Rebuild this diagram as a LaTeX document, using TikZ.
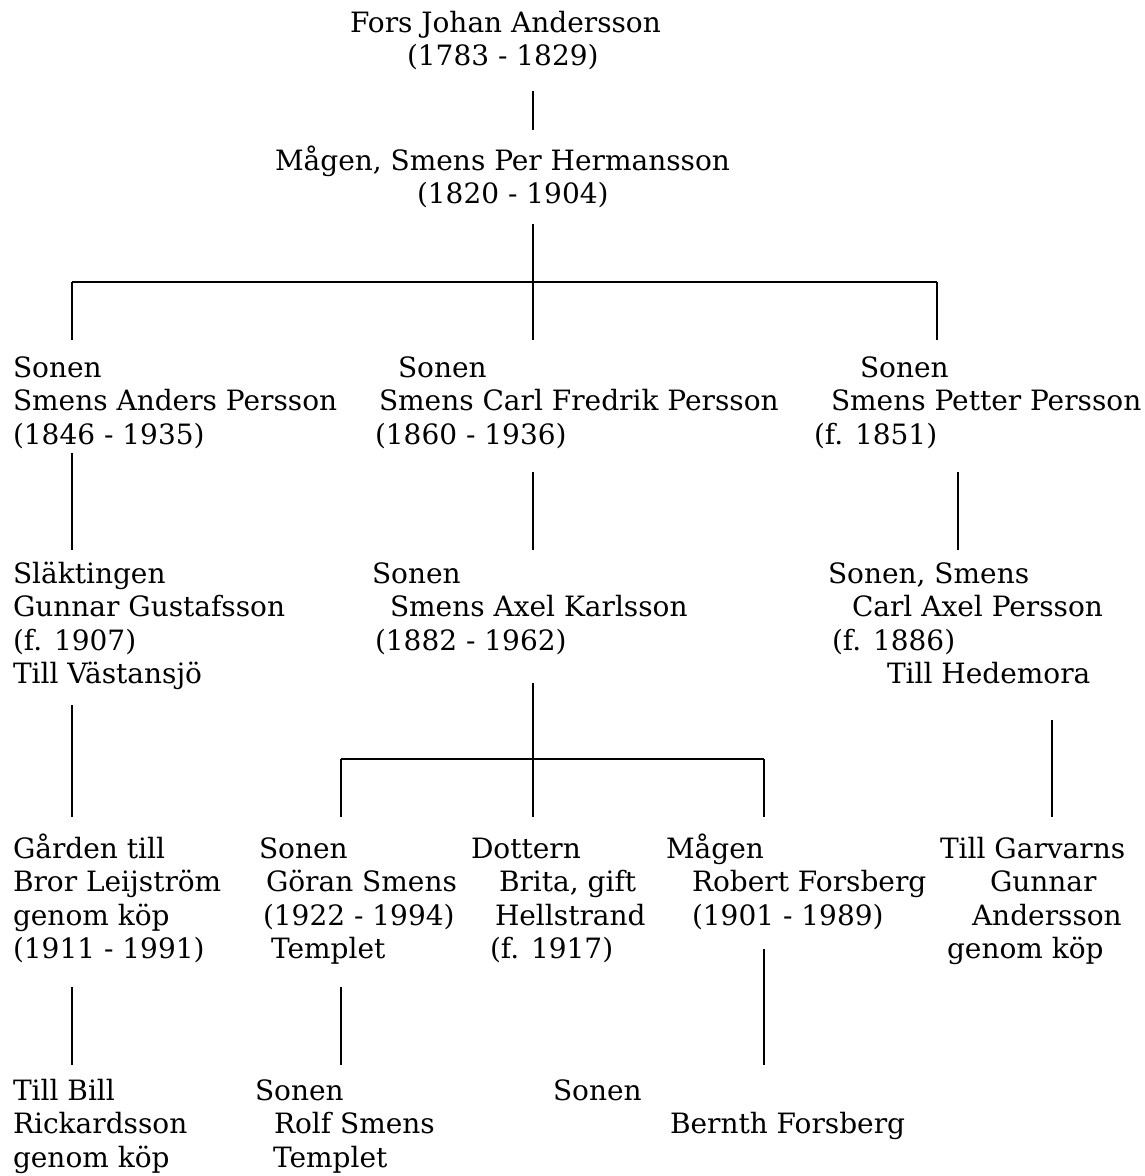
\documentclass[tikz,border=0pt]{standalone}
\usepackage{fontspec}
\setmainfont{DejaVu Serif}
\newcommand{\fs}{\rule{0pt}{30pt}}
\newcommand{\ind}[1]{\hspace*{#1pt}}
\begin{document}
\begin{tikzpicture}[x=1pt,y=-1pt,
  person/.style={anchor=north west, inner sep=0pt, outer sep=0pt, align=left,
    font=\fontsize{28}{33.5}\selectfont},
  vline/.style={line width=1.2pt},
  hline/.style={line width=2pt}]
\useasboundingbox[fill=white] (0,0) rectangle (1145,1176);
% nodes: position = (left, first baseline - 30)
\node[person] (t1) at (350,2) {\fs Fors Johan Andersson\\\ind{57}(1783 - 1829)};
\node[person] (t2) at (275,140) {\fs Mågen, Smens Per Hermansson\\\ind{142}(1820 - 1904)};
\node[person] (a) at (13,347) {\fs Sonen\\Smens Anders Persson\\(1846 - 1935)};
\node[person] (c) at (375,347) {\fs\ind{23}Sonen\\\ind{4}Smens Carl Fredrik Persson\\(1860 - 1936)};
\node[person] (p) at (814,347) {\fs\ind{46}Sonen\\\ind{17}Smens Petter Persson\\(f. 1851)};
\node[person] (g) at (13,553) {\fs Släktingen\\Gunnar Gustafsson\\(f. 1907)\\Till Västansjö};
\node[person] (ax) at (372,553) {\fs Sonen\\\ind{18}Smens Axel Karlsson\\\ind{3}(1882 - 1962)};
\node[person] (ca) at (828,553) {\fs Sonen, Smens\\\ind{24}Carl Axel Persson\\\ind{4}(f. 1886)\\\ind{59}Till Hedemora};
\node[person] (l) at (13,828) {\fs Gården till\\Bror Leijström\\genom köp\\(1911 - 1991)};
\node[person] (gs) at (259,828) {\fs Sonen\\\ind{7}Göran Smens\\\ind{4}(1922 - 1994)\\\ind{12}Templet};
\node[person] (b) at (471,828) {\fs Dottern\\\ind{28}Brita, gift\\\ind{24}Hellstrand\\\ind{19}(f. 1917)};
\node[person] (r) at (666,828) {\fs Mågen\\\ind{26}Robert Forsberg\\\ind{26}(1901 - 1989)};
\node[person] (ga) at (940,828) {\fs Till Garvarns\\\ind{50}Gunnar\\\ind{32}Andersson\\\ind{7}genom köp};
\node[person] (rb) at (13,1070) {\fs Till Bill\\Rickardsson\\genom köp};
\node[person] (rs) at (255,1070) {\fs Sonen\\\ind{19}Rolf Smens\\\ind{18}Templet};
\node[person] (s6) at (553,1070) {\fs Sonen};
\node[person] (bf) at (670,1103) {\fs Bernth Forsberg};
% connector points
\coordinate (t1d) at (533,91);   \coordinate (t2u) at (533,130);
\coordinate (t2d) at (533,224);  \coordinate (j1)  at (533,282);
\coordinate (j1l) at (72,282);   \coordinate (j1r) at (937,282);
\coordinate (au) at (72,340);    \coordinate (cu) at (533,340);  \coordinate (pu) at (937,340);
\coordinate (ad) at (72,453);    \coordinate (gu) at (72,550);
\coordinate (cd) at (533,472);   \coordinate (axu) at (533,550);
\coordinate (pd) at (958,472);   \coordinate (cau) at (958,550);
\coordinate (axd) at (533,683);  \coordinate (j2) at (533,759);
\coordinate (j2l) at (341,759);  \coordinate (j2r) at (764,759);
\coordinate (gsu) at (341,817);  \coordinate (bu) at (533,817);  \coordinate (ru) at (764,817);
\coordinate (gd) at (72,705);    \coordinate (lu) at (72,817);
\coordinate (cad) at (1052,720); \coordinate (gau) at (1052,817);
\coordinate (ld) at (72,987);    \coordinate (rbu) at (72,1065);
\coordinate (gsd) at (341,987);  \coordinate (rsu) at (341,1065);
\coordinate (rd) at (764,949);   \coordinate (bfu) at (764,1065);
% connectors
\draw[vline] (t1d) -- (t2u);
\draw[vline] (t2d) -- (j1);
\draw[hline] (j1l) -- (j1r);
\draw[vline] (j1l) -- (au);
\draw[vline] (j1) -- (cu);
\draw[vline] (j1r) -- (pu);
\draw[vline] (ad) -- (gu);
\draw[vline] (cd) -- (axu);
\draw[vline] (pd) -- (cau);
\draw[vline] (axd) -- (j2);
\draw[hline] (j2l) -- (j2r);
\draw[vline] (j2l) -- (gsu);
\draw[vline] (j2) -- (bu);
\draw[vline] (j2r) -- (ru);
\draw[vline] (gd) -- (lu);
\draw[vline] (cad) -- (gau);
\draw[vline] (ld) -- (rbu);
\draw[vline] (gsd) -- (rsu);
\draw[vline] (rd) -- (bfu);
\end{tikzpicture}
\end{document}
